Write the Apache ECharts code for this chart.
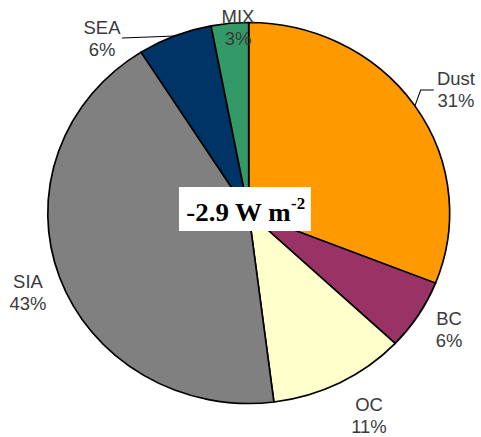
<!DOCTYPE html>
<html>
<head>
<meta charset="utf-8">
<script src="https://cdn.jsdelivr.net/npm/echarts@6/dist/echarts.min.js"></script>
<style>
  html, body { margin: 0; padding: 0; background: #fff; overflow: hidden; }
  /* the pie is drawn slightly wider than tall, so the SVG stage is stretched horizontally */
  #main { width: 456px; height: 437px; transform: scaleX(1.0548); transform-origin: 0 0; }
</style>
</head>
<body>
<div id="main"></div>
<script>
// Aerosol components and their share (%) of the total forcing
const categories = ['Dust', 'BC', 'OC', 'SIA', 'SEA', 'MIX'];
const shares = [31, 6, 11, 43, 6, 3];
const sliceColors = ['#FF9900', '#993366', '#FFFFCC', '#808080', '#003366', '#339966'];
const totalForcing = '-2.9';
const forcingUnit = 'W m';
const forcingExponent = '-2';

// which labels carry a leader line
const withLeader = ['Dust', 'SEA'];

// label block centres (stage coordinates)
const labelCentres = {
  Dust: [432.3, 90],
  BC: [425.7, 330],
  OC: [349.8, 416.5],
  SIA: [26.5, 293],
  SEA: [96.7, 39.5],
  MIX: [225.6, 28.5]
};

const chart = echarts.init(document.getElementById('main'), null, { renderer: 'svg' });

const pieData = categories.map((name, i) => ({
  name: name,
  value: shares[i],
  itemStyle: { color: sliceColors[i] },
  labelLine: { show: withLeader.includes(name) }
}));

chart.setOption({
  animation: false,
  backgroundColor: '#ffffff',
  series: [{
    type: 'pie',
    center: [235.8, 213],
    radius: 190.5,
    startAngle: 90,
    clockwise: true,
    avoidLabelOverlap: false,
    silent: true,
    data: pieData,
    itemStyle: { borderColor: '#000', borderWidth: 1.6 },
    label: {
      show: true,
      position: 'outside',
      formatter: '{b}\n{c}%',
      fontFamily: '"Liberation Sans", Arial, sans-serif',
      fontSize: 17.5,
      lineHeight: 22,
      color: '#3a3a3a',
      align: 'center'
    },
    labelLine: {
      show: true,
      length: 10,
      length2: 10,
      smooth: false,
      lineStyle: { color: '#000', width: 1 }
    },
    labelLayout: function (params) {
      const name = categories[params.dataIndex];
      const c = labelCentres[name];
      const w = params.labelRect.width;
      const out = { x: c[0], y: c[1], align: 'center', verticalAlign: 'middle' };
      const pts = params.labelLinePoints;
      if (pts && name === 'Dust') {
        const anchor = pts[0];
        const endX = c[0] - w / 2 - 3;
        out.labelLinePoints = [anchor, [endX - 12.5, c[1]], [endX, c[1]]];
      } else if (pts && name === 'SEA') {
        const anchor = pts[0];
        const endX = c[0] + w / 2 + 1.5;
        out.labelLinePoints = [anchor, [endX, c[1] - 1.5], [endX, c[1] - 1.5]];
      }
      return out;
    }
  }],
  graphic: [{
    type: 'group',
    left: 169.7,
    top: 187,
    z: 100,
    children: [{
      type: 'rect',
      z: 100,
      shape: { x: 0, y: 0, width: 125, height: 44 },
      style: { fill: '#ffffff' }
    }, {
      type: 'text',
      z: 101,
      x: 63,
      y: 24,
      style: {
        text: '{a|' + totalForcing + ' ' + forcingUnit + '}{s|' + forcingExponent + '}',
        align: 'center',
        verticalAlign: 'middle',
        rich: {
          a: { fontFamily: '"Liberation Serif", "Times New Roman", serif', fontWeight: 'bold', fontSize: 25.5, fill: '#000', lineHeight: 30, verticalAlign: 'bottom' },
          s: { fontFamily: '"Liberation Serif", "Times New Roman", serif', fontWeight: 'bold', fontSize: 16, fill: '#000', lineHeight: 30, verticalAlign: 'top', padding: [0, 0, 12, 0] }
        }
      }
    }]
  }]
});
</script>
</body>
</html>
